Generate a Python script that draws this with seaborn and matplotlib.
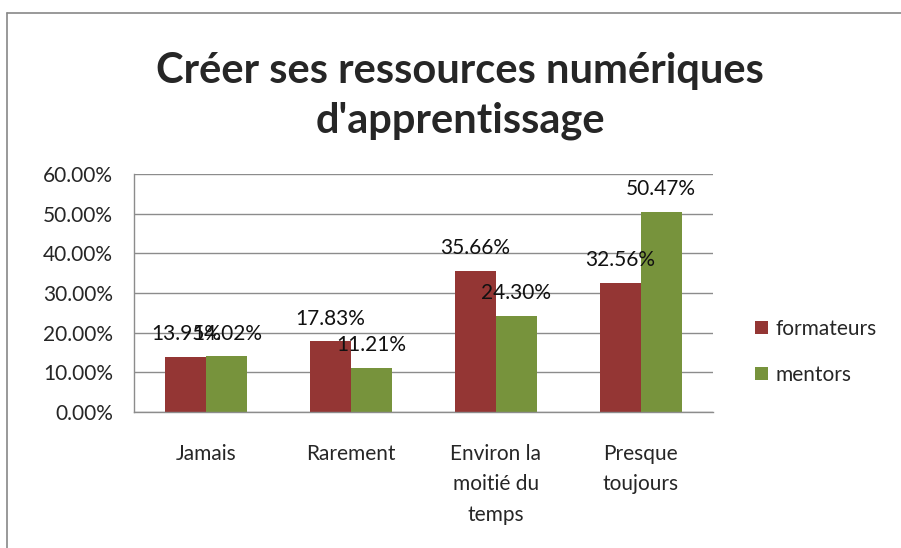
import matplotlib.pyplot as plt
import matplotlib.lines as mlines
import seaborn as sns
import pandas as pd

# données du graphique
categories = ['Jamais', 'Rarement', 'Environ la\nmoitié du\ntemps', 'Presque\ntoujours']
series = ['formateurs', 'mentors']
formateurs = [13.95, 17.83, 35.66, 32.56]
mentors = [14.02, 11.21, 24.30, 50.47]
yticks = [0, 10, 20, 30, 40, 50, 60]
colors = ['#943634', '#77933C']

df = pd.DataFrame({
    'categorie': categories * 2,
    'groupe': [series[0]] * 4 + [series[1]] * 4,
    'valeur': formateurs + mentors,
})

sns.set_theme(style='white')
plt.rcParams['font.family'] = ['Lato', 'DejaVu Sans']

fig = plt.figure(figsize=(9.01, 5.48), dpi=100)
ax = fig.add_axes([134 / 901, 1 - 412 / 548, 579 / 901, 238 / 548])

sns.barplot(data=df, x='categorie', y='valeur', hue='groupe', palette=colors,
            width=0.565, saturation=1, linewidth=0, ax=ax, legend=True)

for cont in ax.containers:
    ax.bar_label(cont, labels=[f'{v:.2f}%' for v in cont.datavalues],
                 padding=9, fontsize=15, color='#111111')

ax.set_ylim(0, 60)
ax.set_yticks(yticks)
ax.set_yticklabels([f'{t:.2f}%' for t in yticks], fontsize=15)
ax.set_xlabel('')
ax.set_ylabel('')
ax.tick_params(axis='y', length=0, pad=15)
ax.tick_params(axis='x', length=0, pad=23, labelsize=15)
for lbl in ax.get_xticklabels():
    lbl.set_linespacing(1.65)
ax.grid(axis='y', color='#8c8c8c', linewidth=1)
ax.set_axisbelow(True)
for s in ['top', 'right']:
    ax.spines[s].set_visible(False)
for s in ['left', 'bottom']:
    ax.spines[s].set_color('#8c8c8c')
    ax.spines[s].set_linewidth(1)

ax.legend(loc='center left', bbox_to_anchor=(747 / 901, 1 - 352 / 548),
          bbox_transform=fig.transFigure, frameon=False, fontsize=15,
          handlelength=0.6, handleheight=0.6, handletextpad=0.35,
          labelspacing=1.25, borderaxespad=0)

fig.text(460 / 901, 1 - 96 / 548, "Créer ses ressources numériques\nd'apprentissage",
         ha='center', va='center', fontsize=30, fontweight='bold', linespacing=1.4)

# cadre extérieur du graphique
fig.add_artist(mlines.Line2D([7 / 901, 1], [1 - 13 / 548] * 2, color='#888888', lw=1.2))
fig.add_artist(mlines.Line2D([7 / 901] * 2, [0, 1 - 13 / 548], color='#888888', lw=1.2))

fig.savefig('out.png', dpi=100)
